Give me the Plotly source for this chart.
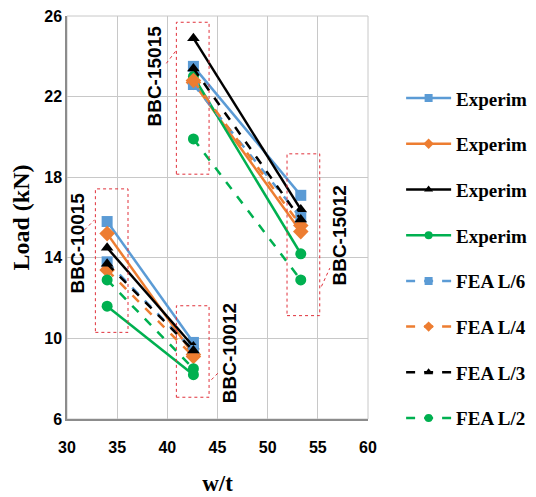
import plotly.graph_objects as go

# w/t values for each specimen group
x_10015 = 34.0
x_10012 = 42.6
x_15015 = 42.6
x_15012 = 53.3

series_names = ["Experim", "Experim", "Experim", "Experim",
                "FEA L/6", "FEA L/4", "FEA L/3", "FEA L/2"]
# loads (kN): [BBC-10015, BBC-10012, BBC-15015, BBC-15012]
exp_1 = [15.8, 9.8, 23.5, 17.1]
exp_2 = [15.2, 9.2, 22.7, 15.3]
exp_3 = [14.5, 9.6, 24.9, 16.4]
exp_4 = [11.6, 8.2, 23.0, 14.2]
fea_l6 = [13.8, 9.4, 22.6, 16.0]
fea_l4 = [13.4, 9.1, 22.8, 15.6]
fea_l3 = [13.7, 9.4, 23.4, 15.9]
fea_l2 = [12.9, 8.5, 19.9, 12.9]
series_values = [exp_1, exp_2, exp_3, exp_4, fea_l6, fea_l4, fea_l3, fea_l2]

colors = ["#5B9BD5", "#ED7D31", "#000000", "#00B050",
          "#5B9BD5", "#ED7D31", "#000000", "#00B050"]
symbols = ["square", "diamond", "triangle-up", "circle",
           "square", "diamond", "triangle-up", "circle"]
dashes = ["solid"] * 4 + ["dash"] * 4

x_ticks = [30, 35, 40, 45, 50, 55, 60]
y_ticks = [6, 10, 14, 18, 22, 26]

fig = go.Figure()
for i, (name, vals) in enumerate(zip(series_names, series_values)):
    xs = [x_10015, x_10012, None, x_15015, x_15012]
    ys = [vals[0], vals[1], None, vals[2], vals[3]]
    fig.add_trace(go.Scatter(
        x=xs, y=ys, mode="lines+markers", name=name,
        showlegend=False,
        line=dict(color=colors[i], width=2.5, dash=dashes[i]),
        marker=dict(symbol=symbols[i], size=11 if symbols[i] != "diamond" else 12,
                    color=colors[i]),
        connectgaps=False,
    ))
# legend entries (smaller legend symbols as in the original)
for i, name in enumerate(series_names):
    fig.add_trace(go.Scatter(
        x=[None], y=[None], mode="lines+markers", name=name,
        legendgroup="g%d" % i,
        line=dict(color=colors[i], width=2.5, dash=dashes[i]),
        marker=dict(symbol=symbols[i], size=8, color=colors[i]),
    ))

# red dashed boxes around the groups
boxes = [
    (32.83, 36.08, 10.3, 17.42),
    (40.9, 44.16, 18.15, 25.69),
    (51.93, 55.19, 11.13, 19.16),
    (40.9, 44.16, 7.08, 11.62),
]
for x0, x1, y0, y1 in boxes:
    fig.add_shape(type="rect", x0=x0, x1=x1, y0=y0, y1=y1, xref="x", yref="y",
                  line=dict(color="#E0303A", width=1, dash="dot"))

leaders = [
    (31.76, 15.39, 32.76, 15.89),
    (39.9, 23.65, 40.9, 24.3),
    (44.4, 7.95, 45.2, 8.36),
    (55.36, 12.58, 56.2, 13.49),
]
for x0, y0, x1, y1 in leaders:
    fig.add_shape(type="line", x0=x0, y0=y0, x1=x1, y1=y1, xref="x", yref="y",
                  line=dict(color="#E0303A", width=1, dash="dot"))

labels = [
    ("BBC-10015", 31.07, 14.75),
    ("BBC-15015", 38.74, 23.03),
    ("BBC-10012", 46.2, 9.24),
    ("BBC-15012", 57.2, 15.1),
]
for txt, lx, ly in labels:
    fig.add_annotation(text=txt, x=lx, y=ly, xref="x", yref="y", showarrow=False,
                       textangle=-90,
                       font=dict(family="Liberation Sans", size=19, color="#000000",
                                 weight="bold"))

fig.update_layout(
    width=528, height=489,
    margin=dict(l=59, r=168, t=8, b=78, autoexpand=False),
    paper_bgcolor="white", plot_bgcolor="white",
    showlegend=True,
    legend=dict(x=1.11, y=0.843, xanchor="left", yanchor="top",
                traceorder="grouped", tracegroupgap=18, itemwidth=45,
                font=dict(family="Liberation Serif", size=19, color="#000000",
                          weight="bold"),
                bgcolor="rgba(0,0,0,0)"),
    xaxis=dict(range=[30, 60], tickvals=x_ticks, showgrid=True, gridcolor="#C8C8C8",
               gridwidth=1, showline=True, linecolor="#8C8C8C", linewidth=1.5,
               mirror=False, zeroline=False, ticks="", automargin=False,
               ticklabelstandoff=13, ticklabeloverflow="allow",
               tickfont=dict(family="Liberation Sans Narrow, Liberation Sans", size=16,
                             color="#000000", weight="bold"),
               title=dict(text="w/t", standoff=20,
                          font=dict(family="Liberation Serif", size=23, color="#000000",
                                    weight="bold"))),
    yaxis=dict(range=[6, 26], tickvals=y_ticks, showgrid=True, gridcolor="#C8C8C8",
               gridwidth=1, showline=True, linecolor="#8C8C8C", linewidth=1.5,
               zeroline=False, ticks="", automargin=False, ticklabeloverflow="allow",
               tickfont=dict(family="Liberation Sans Narrow, Liberation Sans", size=16,
                             color="#000000", weight="bold"),
               title=dict(text="Load (kN)", standoff=12,
                          font=dict(family="Liberation Serif", size=24, color="#000000",
                                    weight="bold"))),
)
# outer border on top/right as gridlines
fig.add_shape(type="rect", x0=0, x1=1, y0=0, y1=1, xref="paper", yref="paper",
              line=dict(color="#C8C8C8", width=1), layer="below")

fig.write_html("out.html")
